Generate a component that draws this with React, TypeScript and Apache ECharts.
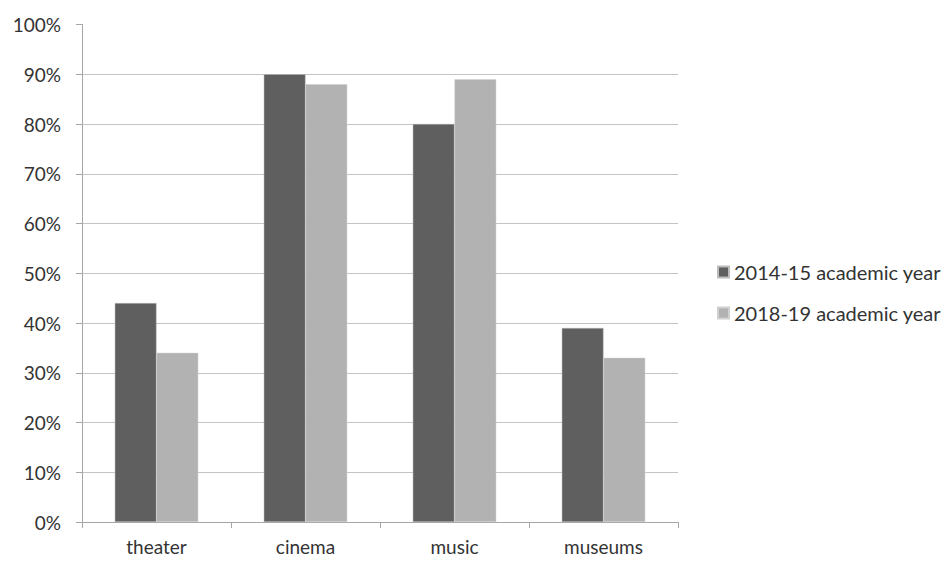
import React, { useEffect, useRef } from "react";
import * as echarts from "echarts";

const categories = ["theater", "cinema", "music", "museums"];
const seriesNames = ["2014-15 academic year", "2018-19 academic year"];
const values2014 = [44, 90, 80, 39];
const values2018 = [34, 88, 89, 33];
const seriesColors = ["#5f5f5f", "#b2b2b2"];

export default function App() {
  const ref = useRef<HTMLDivElement>(null);
  useEffect(() => {
    if (!ref.current) return;
    const chart = echarts.init(ref.current, null, { renderer: "svg" });
    const font = "Lato, 'Open Sans', sans-serif";
    const gridColors = Array.from({ length: 11 }, (_, i) => (i === 10 ? "transparent" : "#c4c4c4"));
    chart.setOption({
      animation: false,
      backgroundColor: "#ffffff",
      grid: { left: 82, right: 951 - 678, top: 24.5, bottom: 561 - 522 },
      legend: {
        orient: "vertical",
        left: 712,
        top: 257,
        itemWidth: 11,
        itemHeight: 11,
        itemGap: 21,
        icon: "rect",
        textStyle: { fontFamily: font, fontSize: 20, color: "#333333", padding: [0, 0, 0, 0] },
        data: seriesNames,
      },
      xAxis: {
        type: "category",
        data: categories,
        axisLine: { lineStyle: { color: "#a6a6a6", width: 1 } },
        axisTick: { show: true, length: 6, lineStyle: { color: "#a6a6a6" }, alignWithLabel: false },
        axisLabel: { fontFamily: font, fontSize: 19, lineHeight: 19, color: "#333333", margin: 15 },
      },
      yAxis: {
        type: "value",
        min: 0,
        max: 100,
        interval: 10,
        axisLine: { show: true, lineStyle: { color: "#a6a6a6", width: 1 } },
        axisTick: { show: true, length: 6, lineStyle: { color: "#a6a6a6" } },
        axisLabel: { fontFamily: font, fontSize: 19, color: "#333333", margin: 21, formatter: "{value}%" },
        splitLine: { show: true, lineStyle: { color: gridColors, width: 1 } },
      },
      series: [
        {
          name: seriesNames[0],
          type: "bar",
          data: values2014,
          barGap: "0%",
          barCategoryGap: "44%",
          itemStyle: { color: seriesColors[0], borderColor: "#bdbdbd", borderWidth: 0.5 },
        },
        {
          name: seriesNames[1],
          type: "bar",
          data: values2018,
          barGap: "0%",
          barCategoryGap: "44%",
          itemStyle: { color: seriesColors[1], borderColor: "#d0d0d0", borderWidth: 0.5 },
        },
      ],
    });
    return () => chart.dispose();
  }, []);
  return <div ref={ref} style={{ width: 951, height: 561, position: "absolute", left: 0, top: 0 }} />;
}
